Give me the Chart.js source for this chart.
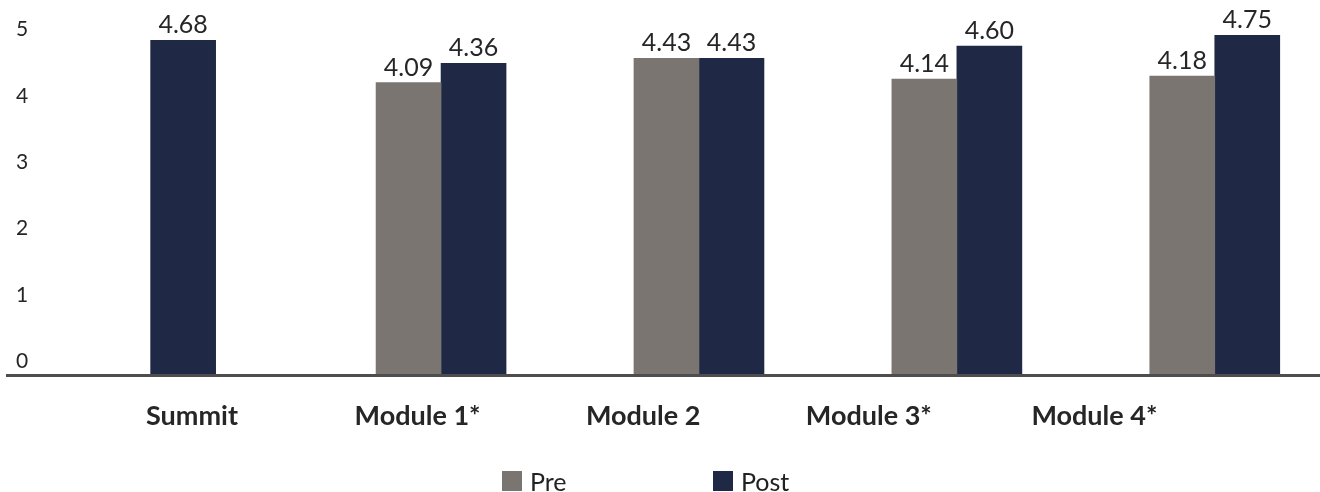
<!DOCTYPE html>
<html>
<head>
<meta charset="utf-8">
<script src="https://cdn.jsdelivr.net/npm/chart.js@4"></script>
<style>
  html, body { margin: 0; padding: 0; background: #fff; overflow: hidden; }
  #Chart__Box { position: relative; width: 1320px; height: 492px; }
  #Legend__Box { position: absolute; left: 502px; top: 471px; display: flex; font-family: Lato; font-size: 25px; color: #222; }
  .Legend__Item { display: flex; align-items: center; height: 20px; line-height: 20px; width: 211px; }
  .Legend__Swatch { width: 20px; height: 20px; margin-right: 8px; }
</style>
</head>
<body>
<div id="Chart__Box">
  <canvas id="Score__Chart" width="1320" height="492"></canvas>
  <div id="Legend__Box"></div>
</div>
<script>
/* chart data */
const categories = ["Summit", "Module 1*", "Module 2", "Module 3*", "Module 4*"];
const preScores = [null, 4.09, 4.43, 4.14, 4.18];
const postScores = [4.68, 4.36, 4.43, 4.60, 4.75];
const yTicks = [0, 1, 2, 3, 4, 5];

const PreColor = "#7b7572";
const PostColor = "#1f2844";
const TextColor = "#262626";

/* turn a list of values into {x, y} points, x = category index */
function ToPoints(values) {
  return values.map((v, i) => ({ x: i, y: v }));
}

/* draws the value above every bar */
const valueLabels = {
  id: "valueLabels",
  afterDatasetsDraw(chart) {
    const ctx = chart.ctx;
    ctx.save();
    ctx.font = "25px Lato";
    ctx.fillStyle = TextColor;
    ctx.textAlign = "center";
    ctx.textBaseline = "alphabetic";
    chart.data.datasets.forEach((ds, i) => {
      chart.getDatasetMeta(i).data.forEach((bar, j) => {
        const v = ds.data[j].y;
        if (v === null) return;
        ctx.fillText(v.toFixed(2), bar.x, bar.y - 7);
      });
    });
    ctx.restore();
  }
};

const myChart = new Chart(document.getElementById("Score__Chart"), {
  type: "bar",
  plugins: [valueLabels],
  data: {
    datasets: [
      { label: "Pre", data: ToPoints(preScores), backgroundColor: PreColor },
      { label: "Post", data: ToPoints(postScores), backgroundColor: PostColor }
    ]
  },
  options: {
    responsive: false,
    animation: false,
    barThickness: 65,
    skipNull: true,
    layout: { padding: { top: 5, bottom: 36, left: 0, right: 0 } },
    plugins: {
      legend: { display: false },
      tooltip: { enabled: false }
    },
    scales: {
      /* axis the bars sit on (only its base line is shown) */
      x: {
        type: "linear",
        offset: false,
        min: -0.683,
        max: 4.408,
        grid: { display: false, drawTicks: false, offset: false },
        ticks: { display: false },
        border: { display: true, color: "#4d4d4d", width: 3, z: 1 }
      },
      /* category names under the groups */
      xl: {
        type: "linear",
        position: "bottom",
        offset: false,
        min: -0.82,
        max: 5.0,
        afterBuildTicks: (scale) => { scale.ticks = categories.map((c, i) => ({ value: i })); },
        grid: { display: false, drawTicks: false, offset: false },
        border: { display: false },
        ticks: {
          autoSkip: false,
          maxRotation: 0,
          padding: 24,
          color: TextColor,
          font: { family: "Lato", size: 27, weight: "bold" },
          callback: (value) => categories[value]
        }
      },
      y: {
        display: false,
        min: 0,
        max: 5.174
      },
      /* value ticks, drawn inside the plot on the left */
      yl: {
        type: "linear",
        position: "left",
        min: -0.218,
        max: 5.368,
        afterBuildTicks: (scale) => { scale.ticks = yTicks.map(v => ({ value: v })); },
        afterFit: (scale) => { scale.width = 7; scale.paddingTop = 0; scale.paddingBottom = 0; },
        grid: { display: false, drawTicks: false },
        border: { display: false },
        ticks: {
          mirror: true,
          crossAlign: "near",
          padding: 9,
          color: TextColor,
          font: { family: "Lato", size: 21 }
        }
      }
    }
  }
});

/* legend built from the chart datasets */
function BuildLegend(chart) {
  const box = document.getElementById("Legend__Box");
  chart.data.datasets.forEach(ds => {
    const item = document.createElement("div");
    item.className = "Legend__Item";
    const swatch = document.createElement("span");
    swatch.className = "Legend__Swatch";
    swatch.style.background = ds.backgroundColor;
    const text = document.createElement("span");
    text.textContent = ds.label;
    item.appendChild(swatch);
    item.appendChild(text);
    box.appendChild(item);
  });
}
BuildLegend(myChart);
</script>
</body>
</html>
